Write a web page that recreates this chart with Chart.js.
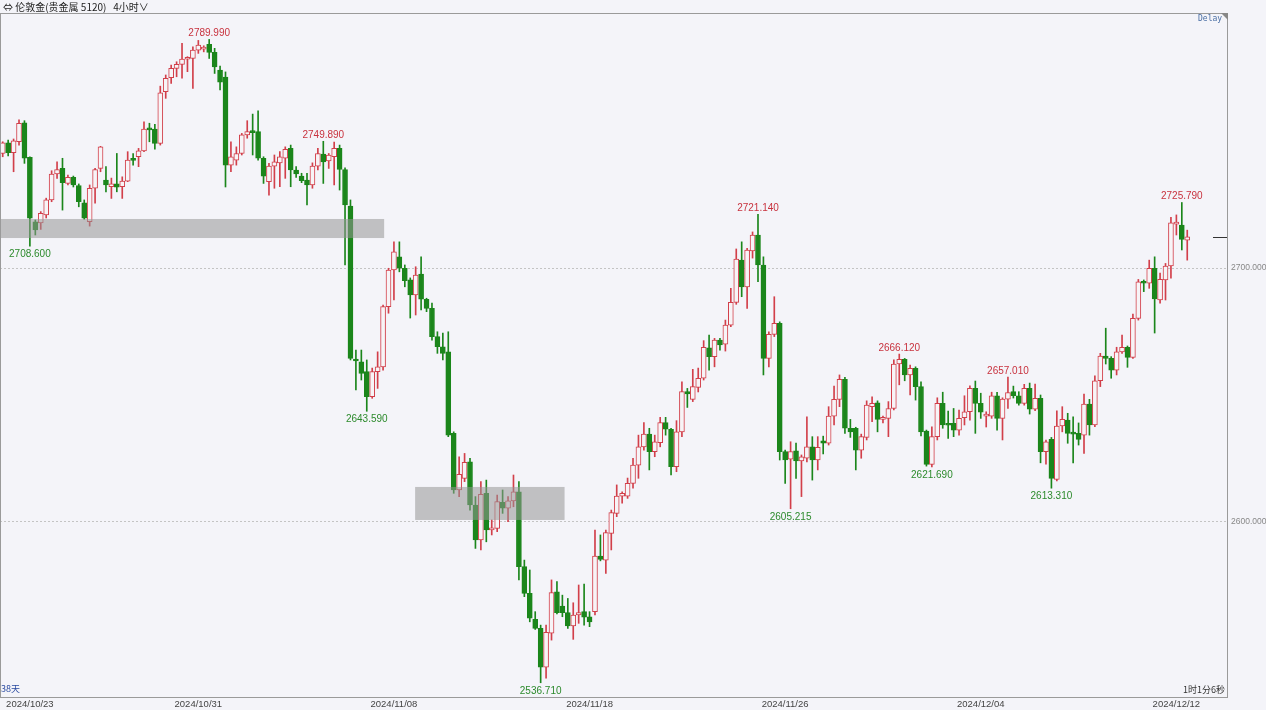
<!DOCTYPE html>
<html>
<head>
<meta charset="utf-8">
<script src="https://cdn.jsdelivr.net/npm/chart.js@4.4.1/dist/chart.umd.min.js"></script>
<style>
  html, body { margin: 0; padding: 0; background: #f4f4f9; }
  #wrap { position: relative; width: 1266px; height: 710px; overflow: hidden; }
  #title { position: absolute; left: 3px; top: -1px; font: 10px "Noto Sans CJK SC", "Liberation Sans", sans-serif; color: #222; white-space: pre; }
  #delay { position: absolute; left: 1198px; top: 14px; font: 8px "DejaVu Sans Mono", monospace; color: #4a6fa5; }
  #days { position: absolute; left: 1px; top: 682px; font: 9px "Noto Sans CJK SC", sans-serif; color: #2a4aa0; }
  #timer { position: absolute; left: 1183px; top: 683px; font: 9px "Noto Sans CJK SC", sans-serif; color: #333; }
</style>
</head>
<body>
<div id="wrap">
  <canvas id="chart" width="1266" height="710"></canvas>
  <div id="title">⇔ 伦敦金(贵金属 5120)   4小时∨</div>
  <div id="delay">Delay</div>
  <div id="days">38天</div>
  <div id="timer">1时1分6秒</div>
</div>
<script>
// 4h candles, 2024/10/23 .. 2024/12/12
const open = [
  2745.1, 2749.3, 2745.4, 2749.7, 2757.2, 2743.6, 2718.2, 2717.8, 2720.9, 2726.8,
  2737.0, 2739.2, 2733.3, 2735.7, 2732.5, 2725.7, 2718.2, 2731.4, 2739.2, 2734.6,
  2732.0, 2733.1, 2732.0, 2734.2, 2742.9, 2743.8, 2746.1, 2755.0, 2754.7, 2749.1,
  2769.4, 2774.9, 2778.6, 2780.2, 2782.2, 2782.5, 2785.8, 2786.2, 2788.1, 2784.9,
  2777.9, 2775.2, 2740.5, 2742.5, 2745.1, 2752.4, 2753.7, 2753.7, 2743.2, 2734.0,
  2740.1, 2741.4, 2743.2, 2747.1, 2738.6, 2736.2, 2734.6, 2732.7, 2740.1, 2744.9,
  2742.2, 2743.8, 2747.1, 2738.8, 2724.4, 2663.8, 2663.1, 2659.2, 2649.3, 2659.2,
  2661.1, 2684.8, 2699.2, 2704.4, 2699.9, 2695.3, 2689.4, 2697.6, 2687.7, 2684.1,
  2673.0, 2669.0, 2667.0, 2634.9, 2612.6, 2617.2, 2623.7, 2606.7, 2592.9, 2611.3,
  2596.9, 2597.5, 2607.7, 2605.4, 2608.3, 2611.9, 2582.4, 2571.9, 2561.7, 2558.1,
  2542.8, 2556.2, 2572.5, 2566.9, 2564.3, 2559.1, 2563.4, 2564.7, 2562.7, 2564.7,
  2586.6, 2585.0, 2595.5, 2603.4, 2610.2, 2610.2, 2615.2, 2622.4, 2629.6, 2634.6,
  2627.7, 2631.2, 2639.1, 2636.5, 2621.8, 2635.5, 2651.3, 2648.3, 2653.0, 2656.6,
  2668.6, 2665.1, 2671.6, 2670.0, 2677.5, 2686.5, 2703.1, 2692.6, 2706.7, 2713.0,
  2701.2, 2664.4, 2673.9, 2678.2, 2627.7, 2624.7, 2628.0, 2624.0, 2625.1, 2629.6,
  2624.4, 2632.0, 2631.0, 2641.7, 2648.3, 2656.2, 2636.9, 2636.9, 2628.3, 2633.3,
  2645.4, 2646.9, 2640.4, 2640.8, 2644.7, 2662.2, 2664.0, 2657.9, 2660.5, 2653.3,
  2635.8, 2622.7, 2633.6, 2646.7, 2638.5, 2638.8, 2636.2, 2641.1, 2643.4, 2652.6,
  2646.7, 2641.7, 2641.7, 2649.7, 2640.8, 2648.4, 2651.3, 2649.7, 2646.7, 2652.6,
  2644.4, 2648.7, 2627.7, 2632.5, 2616.8, 2637.8, 2640.1, 2635.3, 2634.9, 2634.2,
  2646.4, 2638.2, 2655.6, 2665.3, 2664.4, 2659.8, 2667.0, 2668.8, 2664.8, 2680.2,
  2694.6, 2694.0, 2699.9, 2687.4, 2695.3, 2700.8, 2717.3, 2716.9, 2711.0
];
const high = [
  2749.7, 2750.4, 2750.8, 2758.3, 2758.0, 2743.8, 2718.9, 2722.2, 2727.5, 2738.3,
  2741.8, 2743.2, 2736.6, 2736.2, 2733.1, 2726.8, 2732.7, 2739.2, 2747.9, 2739.9,
  2735.4, 2745.1, 2735.9, 2745.8, 2745.1, 2747.1, 2757.6, 2757.0, 2756.6, 2771.6,
  2776.0, 2779.9, 2781.2, 2788.5, 2783.2, 2787.1, 2789.6, 2787.5, 2789.99, 2786.5,
  2779.5, 2777.2, 2749.7, 2747.7, 2753.0, 2758.0, 2760.6, 2761.9, 2743.8, 2741.2,
  2744.5, 2745.8, 2747.7, 2748.4, 2739.9, 2737.3, 2737.3, 2741.4, 2747.1, 2749.89,
  2745.1, 2749.6, 2748.4, 2739.4, 2726.8, 2667.7, 2667.7, 2663.8, 2660.6, 2667.0,
  2685.4, 2699.9, 2710.3, 2710.3, 2701.2, 2696.1, 2700.5, 2704.4, 2688.1, 2686.2,
  2674.9, 2674.4, 2674.9, 2635.5, 2625.7, 2627.0, 2625.1, 2610.0, 2615.9, 2616.5,
  2600.8, 2610.6, 2612.6, 2610.0, 2618.5, 2615.9, 2585.0, 2581.1, 2564.7, 2559.4,
  2559.4, 2577.2, 2576.5, 2571.2, 2569.9, 2568.2, 2575.2, 2575.6, 2564.7, 2596.8,
  2594.9, 2596.8, 2604.7, 2614.6, 2611.9, 2617.3, 2625.1, 2634.2, 2639.1, 2636.9,
  2634.2, 2641.2, 2641.2, 2636.9, 2639.9, 2655.2, 2652.6, 2660.1, 2660.6, 2671.4,
  2673.6, 2672.3, 2672.3, 2679.5, 2692.0, 2707.5, 2710.3, 2707.7, 2714.2, 2721.14,
  2704.4, 2674.9, 2688.7, 2678.8, 2628.3, 2631.6, 2631.1, 2626.4, 2641.4, 2633.6,
  2633.6, 2633.8, 2645.4, 2653.5, 2657.9, 2657.0, 2640.4, 2637.3, 2634.6, 2647.7,
  2649.3, 2647.7, 2641.7, 2647.4, 2663.8, 2666.12, 2664.4, 2661.8, 2661.1, 2655.2,
  2636.2, 2637.5, 2648.9, 2651.1, 2643.7, 2644.7, 2644.1, 2649.7, 2653.6, 2655.5,
  2650.7, 2643.4, 2651.1, 2651.1, 2648.9, 2657.01, 2653.5, 2651.3, 2654.2, 2654.7,
  2654.3, 2650.0, 2632.3, 2633.3, 2643.8, 2645.4, 2642.8, 2641.4, 2639.0, 2650.4,
  2648.3, 2657.5, 2666.4, 2676.3, 2665.1, 2668.8, 2673.6, 2669.3, 2681.9, 2695.5,
  2695.3, 2703.1, 2704.4, 2698.0, 2701.8, 2720.0, 2720.9, 2725.79, 2714.9
];
const low = [
  2743.8, 2744.1, 2737.9, 2748.4, 2741.2, 2708.6, 2713.0, 2715.2, 2719.7, 2726.1,
  2735.3, 2722.8, 2732.7, 2731.9, 2724.1, 2719.2, 2716.5, 2725.5, 2737.9, 2730.0,
  2727.4, 2730.0, 2727.4, 2734.0, 2740.5, 2739.9, 2745.8, 2749.7, 2746.8, 2748.4,
  2766.8, 2772.7, 2775.3, 2774.7, 2777.3, 2770.7, 2784.5, 2785.1, 2782.5, 2776.6,
  2770.1, 2731.9, 2737.9, 2740.5, 2744.5, 2751.1, 2744.5, 2742.5, 2733.3, 2728.7,
  2731.4, 2732.0, 2735.3, 2732.0, 2735.7, 2733.6, 2724.8, 2731.4, 2738.6, 2733.3,
  2739.2, 2732.7, 2730.7, 2701.2, 2663.8, 2652.0, 2655.9, 2643.59, 2648.7, 2652.6,
  2659.8, 2682.2, 2687.4, 2698.5, 2692.6, 2680.3, 2681.5, 2683.5, 2682.8, 2671.6,
  2666.4, 2663.8, 2633.6, 2611.3, 2610.0, 2615.9, 2604.7, 2589.6, 2589.0, 2592.2,
  2594.9, 2596.2, 2603.4, 2600.1, 2606.0, 2577.2, 2570.6, 2560.7, 2557.7, 2536.71,
  2538.5, 2553.5, 2563.8, 2562.7, 2558.1, 2553.8, 2560.1, 2559.4, 2558.8, 2563.4,
  2584.7, 2579.8, 2589.0, 2602.1, 2607.4, 2609.3, 2613.3, 2617.2, 2628.3, 2620.5,
  2625.7, 2629.6, 2634.2, 2618.5, 2619.8, 2633.6, 2645.1, 2647.4, 2651.2, 2655.9,
  2659.8, 2661.1, 2667.7, 2667.3, 2676.9, 2685.7, 2688.7, 2684.1, 2703.9, 2694.6,
  2657.9, 2661.1, 2673.0, 2624.4, 2615.2, 2605.215, 2617.2, 2610.0, 2623.7, 2616.5,
  2620.5, 2626.8, 2630.3, 2638.2, 2645.4, 2634.9, 2633.3, 2620.5, 2625.1, 2632.3,
  2639.5, 2635.5, 2639.0, 2633.6, 2644.1, 2654.0, 2655.6, 2650.0, 2648.0, 2633.9,
  2622.0, 2621.69, 2632.3, 2636.9, 2632.9, 2633.6, 2634.2, 2638.2, 2640.1, 2634.9,
  2640.8, 2637.4, 2640.8, 2636.2, 2632.3, 2644.7, 2648.8, 2646.0, 2646.0, 2642.5,
  2643.8, 2623.3, 2622.8, 2613.31, 2616.2, 2635.5, 2631.0, 2623.3, 2630.3, 2627.0,
  2634.2, 2637.5, 2653.3, 2662.2, 2656.6, 2657.9, 2666.4, 2660.9, 2664.4, 2679.5,
  2690.7, 2692.0, 2674.4, 2686.2, 2687.4, 2696.0, 2713.0, 2707.1, 2703.1
];
const close = [
  2749.3, 2745.4, 2750.1, 2757.0, 2743.2, 2719.6, 2715.0, 2721.5, 2726.8, 2737.0,
  2738.8, 2733.6, 2735.7, 2732.7, 2726.1, 2719.6, 2731.4, 2738.8, 2747.7, 2732.7,
  2733.1, 2731.8, 2734.2, 2742.5, 2742.4, 2746.1, 2754.7, 2754.4, 2749.1, 2769.0,
  2774.7, 2778.6, 2780.2, 2782.3, 2782.5, 2785.8, 2787.8, 2786.7, 2784.9, 2779.2,
  2773.2, 2740.5, 2743.8, 2745.1, 2752.4, 2753.7, 2753.3, 2743.2, 2736.2, 2740.1,
  2741.8, 2743.8, 2746.7, 2738.6, 2737.0, 2734.4, 2732.7, 2740.1, 2745.1, 2741.8,
  2744.5, 2747.1, 2738.8, 2724.8, 2664.4, 2663.4, 2658.5, 2649.3, 2659.2, 2661.1,
  2684.8, 2699.2, 2706.4, 2699.9, 2695.0, 2689.4, 2697.2, 2687.7, 2684.1, 2673.0,
  2669.0, 2666.4, 2634.2, 2612.6, 2618.8, 2623.5, 2606.7, 2592.9, 2610.9, 2596.9,
  2597.5, 2608.0, 2605.4, 2608.3, 2611.9, 2582.4, 2571.9, 2562.1, 2558.1, 2542.8,
  2556.6, 2572.2, 2564.3, 2564.3, 2559.1, 2563.4, 2564.3, 2562.5, 2560.7, 2586.6,
  2585.3, 2595.8, 2603.7, 2610.2, 2611.3, 2615.2, 2622.4, 2629.6, 2634.6, 2627.7,
  2631.6, 2639.1, 2636.5, 2621.8, 2635.5, 2651.3, 2650.4, 2653.3, 2656.6, 2668.8,
  2665.1, 2671.6, 2669.7, 2677.5, 2686.5, 2703.5, 2692.6, 2707.1, 2713.0, 2701.2,
  2664.4, 2673.9, 2678.2, 2627.7, 2624.4, 2627.7, 2624.0, 2625.7, 2629.6, 2624.4,
  2629.4, 2631.0, 2641.7, 2648.3, 2656.2, 2636.9, 2635.5, 2628.3, 2633.6, 2646.0,
  2646.7, 2640.4, 2640.8, 2644.7, 2662.2, 2664.0, 2657.9, 2660.5, 2653.3, 2635.5,
  2622.7, 2633.6, 2646.7, 2638.2, 2638.1, 2636.2, 2640.8, 2643.4, 2652.6, 2646.7,
  2643.2, 2642.1, 2649.7, 2640.8, 2648.4, 2651.0, 2649.7, 2646.7, 2652.6, 2644.4,
  2648.7, 2627.7, 2631.6, 2617.2, 2637.8, 2640.4, 2634.9, 2634.6, 2632.5, 2646.4,
  2638.2, 2655.6, 2665.3, 2664.4, 2659.8, 2667.0, 2668.8, 2664.8, 2680.2, 2694.6,
  2694.0, 2699.9, 2687.8, 2695.5, 2700.8, 2717.8, 2717.8, 2711.3, 2712.3
];

// x axis: one slot per 4h bar, a few empty slots after the last bar
const slotCount = 226;
const dateTicks = ['2024/10/23', '2024/10/31', '2024/11/08', '2024/11/18', '2024/11/26', '2024/12/04', '2024/12/12'];
const dateTickIdx = [5, 36, 72, 108, 144, 180, 216];
const priceTicks = [2600, 2700];

// marked highs / lows
const peakIdx = [38, 59, 139, 165, 185, 217];
const troughIdx = [5, 67, 99, 145, 171, 193];

// grey zones: [fromSlot, toSlot, top, bottom]
const zoneFrom = [-0.5, 75.9];
const zoneTo = [70.2, 103.4];
const zoneTop = [2719.3, 2613.8];
const zoneBottom = [2711.8, 2600.8];

const UP = '#d23f4a', DOWN = '#1b861b', BG = '#f4f4f9';

const slots = Array.from({ length: slotCount }, (_, i) => String(i));
const isUp = open.map((o, i) => close[i] >= o);

const overlay = {
  id: 'overlay',
  beforeDraw(chart) {
    const c = chart.ctx;
    c.save();
    c.fillStyle = BG;
    c.fillRect(0, 0, chart.width, chart.height);
    c.restore();
  },
  afterDatasetsDraw(chart) {
    const c = chart.ctx, xs = chart.scales.x, ys = chart.scales.y, a = chart.chartArea;
    c.save();
    // zones
    c.fillStyle = 'rgba(150,150,150,0.55)';
    for (let k = 0; k < zoneFrom.length; k++) {
      const x1 = Math.max(a.left, xs.getPixelForValue(zoneFrom[k]));
      const x2 = xs.getPixelForValue(zoneTo[k]);
      const y1 = ys.getPixelForValue(zoneTop[k]);
      const y2 = ys.getPixelForValue(zoneBottom[k]);
      c.fillRect(x1, y1, x2 - x1, y2 - y1);
    }
    // high / low labels
    c.font = '10px "Liberation Sans", Arial, sans-serif';
    c.textAlign = 'center';
    c.fillStyle = '#c8323e';
    c.textBaseline = 'bottom';
    peakIdx.forEach(i => {
      c.fillText(high[i].toFixed(3), xs.getPixelForValue(i), ys.getPixelForValue(high[i]) - 1);
    });
    c.fillStyle = '#2c8a2c';
    c.textBaseline = 'top';
    troughIdx.forEach(i => {
      c.fillText(low[i].toFixed(3), xs.getPixelForValue(i), ys.getPixelForValue(low[i]) + 3);
    });
    // last price marker
    const yl = Math.round(ys.getPixelForValue(close[close.length - 1])) + 0.5;
    c.strokeStyle = '#333';
    c.lineWidth = 1;
    c.beginPath();
    c.moveTo(a.right - 15, yl);
    c.lineTo(a.right, yl);
    c.stroke();
    c.restore();
  },
  afterDraw(chart) {
    const c = chart.ctx, a = chart.chartArea;
    c.save();
    c.strokeStyle = '#9a9a9a';
    c.lineWidth = 1;
    c.strokeRect(Math.round(a.left) + 0.5, Math.round(a.top) + 0.5, Math.round(a.right - a.left) - 1, Math.round(a.bottom - a.top));
    c.fillStyle = '#888';
    c.beginPath();
    c.moveTo(a.right - 7, a.top);
    c.lineTo(a.right, a.top);
    c.lineTo(a.right, a.top + 7);
    c.closePath();
    c.fill();
    c.restore();
  }
};

new Chart(document.getElementById('chart'), {
  type: 'bar',
  data: {
    labels: slots,
    datasets: [
      {
        label: 'body',
        data: open.map((o, i) => [o, close[i]]),
        backgroundColor: isUp.map(u => u ? '#f7f4f7' : DOWN),
        borderColor: isUp.map(u => u ? UP : DOWN),
        borderWidth: 1,
        borderSkipped: false,
        barThickness: 5,
        minBarLength: 2,
        grouped: false,
        order: 0
      },
      {
        label: 'wick',
        data: low.map((l, i) => [l, high[i]]),
        backgroundColor: isUp.map(u => u ? UP : DOWN),
        borderWidth: 0,
        barThickness: 1,
        grouped: false,
        order: 1
      }
    ]
  },
  options: {
    responsive: false,
    animation: false,
    layout: { padding: { top: 13, left: 0, right: 0, bottom: 0 } },
    plugins: { legend: { display: false }, tooltip: { enabled: false } },
    scales: {
      x: {
        type: 'category',
        offset: true,
        grid: { display: false, drawTicks: false },
        border: { display: false },
        afterBuildTicks: s => { s.ticks = dateTickIdx.map(v => ({ value: v })); },
        afterFit: s => { s.height = 13; },
        ticks: {
          autoSkip: false,
          maxRotation: 0,
          padding: 2,
          color: '#444',
          font: { family: '"Liberation Sans", Arial, sans-serif', size: 9.5 },
          callback: (v, i) => dateTicks[i]
        }
      },
      y: {
        position: 'right',
        min: 2531.1,
        max: 2800.4,
        grid: { color: '#c4c4c4', drawTicks: false },
        border: { display: false, dash: [2, 2] },
        afterBuildTicks: s => { s.ticks = priceTicks.map(v => ({ value: v })); },
        afterFit: s => { s.width = 38; },
        ticks: {
          padding: 3,
          color: '#888',
          font: { family: '"Liberation Sans", Arial, sans-serif', size: 8.5 },
          callback: v => Number(v).toFixed(3)
        }
      }
    }
  },
  plugins: [overlay]
});
</script>
</body>
</html>
